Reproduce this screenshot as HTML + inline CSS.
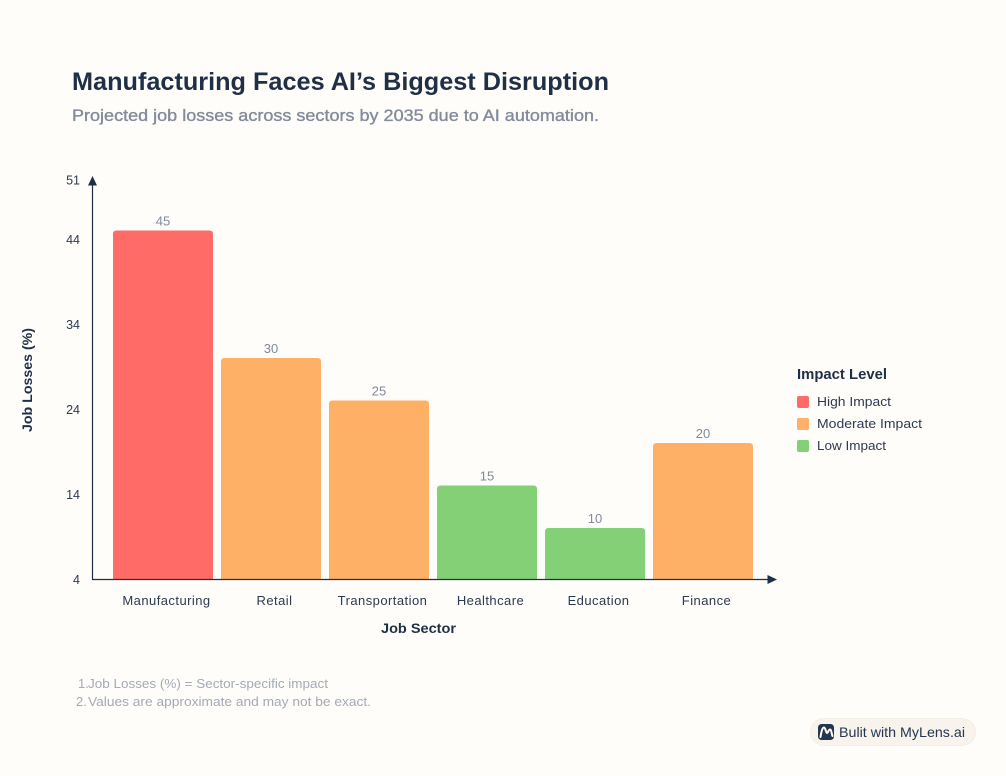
<!DOCTYPE html>
<html lang="en">
<head>
<meta charset="utf-8">
<title>Manufacturing Faces AI's Biggest Disruption</title>
<style>
  html, body { margin: 0; padding: 0; background: #fffdf9; }
  body { width: 1006px; height: 776px; overflow: hidden; }
  svg { display: block; font-family: "Liberation Sans", "DejaVu Sans", sans-serif; }
</style>
</head>
<body>
<svg id="chart" xmlns="http://www.w3.org/2000/svg" width="1006" height="776" viewBox="0 0 1006 776">
  <rect x="0" y="0" width="1006" height="776" fill="#fffdf9"/>
  <text x="72" y="90" font-size="25" font-weight="700" fill="#1f2f46" textLength="537" lengthAdjust="spacingAndGlyphs">Manufacturing Faces AI’s Biggest Disruption</text>
  <text x="72" y="121" font-size="17" fill="#818b9c" stroke="#818b9c" stroke-width="0.35" textLength="527" lengthAdjust="spacingAndGlyphs">Projected job losses across sectors by 2035 due to AI automation.</text>

  <g id="bars"></g>
  <g id="value-labels"></g>
  <g id="y-ticks"></g>
  <g id="x-ticks"></g>

  <line x1="92.5" y1="579.5" x2="92.5" y2="184" stroke="#1f2f46" stroke-width="1.2"/>
  <polygon points="92.5,176 88,185.5 97,185.5" fill="#1f2f46"/>
  <line x1="92" y1="579.5" x2="770" y2="579.5" stroke="#1f2f46" stroke-width="1.2"/>
  <polygon points="777,579.5 767.5,575 767.5,584" fill="#1f2f46"/>

  <text transform="translate(32,380) rotate(-90)" text-anchor="middle" font-size="14" font-weight="700" fill="#1f2f46" textLength="104" lengthAdjust="spacingAndGlyphs">Job Losses (%)</text>
  <text x="418.5" y="633" text-anchor="middle" font-size="14" font-weight="700" fill="#1f2f46" textLength="75" lengthAdjust="spacingAndGlyphs">Job Sector</text>

  <g>
    <text x="797" y="379" font-size="15" font-weight="700" fill="#1f2f46" textLength="90" lengthAdjust="spacingAndGlyphs">Impact Level</text>
    <rect x="797" y="396" width="12" height="12" rx="2" fill="#ff6b66"/>
    <text x="817" y="406" font-size="13" fill="#2c3a50" textLength="74" lengthAdjust="spacingAndGlyphs">High Impact</text>
    <rect x="797" y="418" width="12" height="12" rx="2" fill="#ffb067"/>
    <text x="817" y="428" font-size="13" fill="#2c3a50" textLength="105" lengthAdjust="spacingAndGlyphs">Moderate Impact</text>
    <rect x="797" y="440" width="12" height="12" rx="2" fill="#84d076"/>
    <text x="817" y="450" font-size="13" fill="#2c3a50" textLength="69" lengthAdjust="spacingAndGlyphs">Low Impact</text>
  </g>

  <text x="78" y="688" font-size="13" fill="#a3aab6">1.</text>
  <text x="88" y="688" font-size="13" fill="#a3aab6" textLength="240" lengthAdjust="spacingAndGlyphs">Job Losses (%) = Sector-specific impact</text>
  <text x="76" y="706" font-size="13" fill="#a3aab6">2.</text>
  <text x="88" y="706" font-size="13" fill="#a3aab6" textLength="283" lengthAdjust="spacingAndGlyphs">Values are approximate and may not be exact.</text>

  <g>
    <rect x="810.5" y="718.5" width="165" height="27" rx="13.5" fill="#f8f3ec" stroke="#f3eee6"/>
    <rect x="818" y="724" width="16" height="16" rx="3.5" fill="#24364f"/>
    <path d="M820.5 737 C821.5 731 822.5 727.5 824 727.5 C825.5 727.5 826 733 827 733 C828 733 828.5 729.5 830 729.5 C831.5 729.5 831.5 734 832.5 736" fill="none" stroke="#fffdf9" stroke-width="2" stroke-linecap="round" stroke-linejoin="round"/>
    <text x="839" y="737" font-size="14" fill="#24364f" textLength="126" lengthAdjust="spacingAndGlyphs">Bulit with MyLens.ai</text>
  </g>
</svg>

<script>
const categories = ["Manufacturing", "Retail", "Transportation", "Healthcare", "Education", "Finance"];
const jobLosses = [45, 30, 25, 15, 10, 20];
const impactLevels = ["high", "moderate", "moderate", "low", "low", "moderate"];
const yTickValues = [4, 14, 24, 34, 44, 51];

const impactColors = { high: "#ff6b66", moderate: "#ffb067", low: "#84d076" };
const SVG_NS = "http://www.w3.org/2000/svg";

function yScale(value) {
  return 579 - (value - 4) * 8.5;
}
function xBand(index) {
  return 113 + index * 108;
}
const BAND_WIDTH = 100;

function makeText(x, y, content, size, fill, anchor) {
  const t = document.createElementNS(SVG_NS, "text");
  t.setAttribute("x", x);
  t.setAttribute("y", y);
  t.setAttribute("font-size", size);
  t.setAttribute("fill", fill);
  t.setAttribute("text-anchor", anchor);
  t.textContent = content;
  return t;
}

const barsGroup = document.getElementById("bars");
const valueGroup = document.getElementById("value-labels");
const xTickGroup = document.getElementById("x-ticks");
const yTickGroup = document.getElementById("y-ticks");

categories.forEach(function (category, i) {
  const x = xBand(i);
  const top = yScale(jobLosses[i]);
  const bottom = yScale(4);
  const r = Math.min(3.5, Math.max(0, bottom - top));
  const bar = document.createElementNS(SVG_NS, "path");
  bar.setAttribute("d",
    "M" + x + " " + bottom +
    " V" + (top + r) +
    " Q" + x + " " + top + " " + (x + r) + " " + top +
    " H" + (x + BAND_WIDTH - r) +
    " Q" + (x + BAND_WIDTH) + " " + top + " " + (x + BAND_WIDTH) + " " + (top + r) +
    " V" + bottom + " Z");
  bar.setAttribute("fill", impactColors[impactLevels[i]]);
  
  
  barsGroup.appendChild(bar);

  const valueLabel = makeText(x + BAND_WIDTH / 2, top - 5, String(jobLosses[i]), 13, "#7f8a9c", "middle");
  
  
  valueGroup.appendChild(valueLabel);

  const catLabel = makeText(x + BAND_WIDTH / 2 + 3.5, 605, category, 13, "#2c3a50", "middle");
  catLabel.setAttribute("letter-spacing", "0.45");
  
  
  xTickGroup.appendChild(catLabel);
});

yTickValues.forEach(function (tick) {
  const label = makeText(80, yScale(tick) + 5, String(tick), 12.5, "#2c3a50", "end");
  
  
  yTickGroup.appendChild(label);
});
</script>
</body>
</html>
